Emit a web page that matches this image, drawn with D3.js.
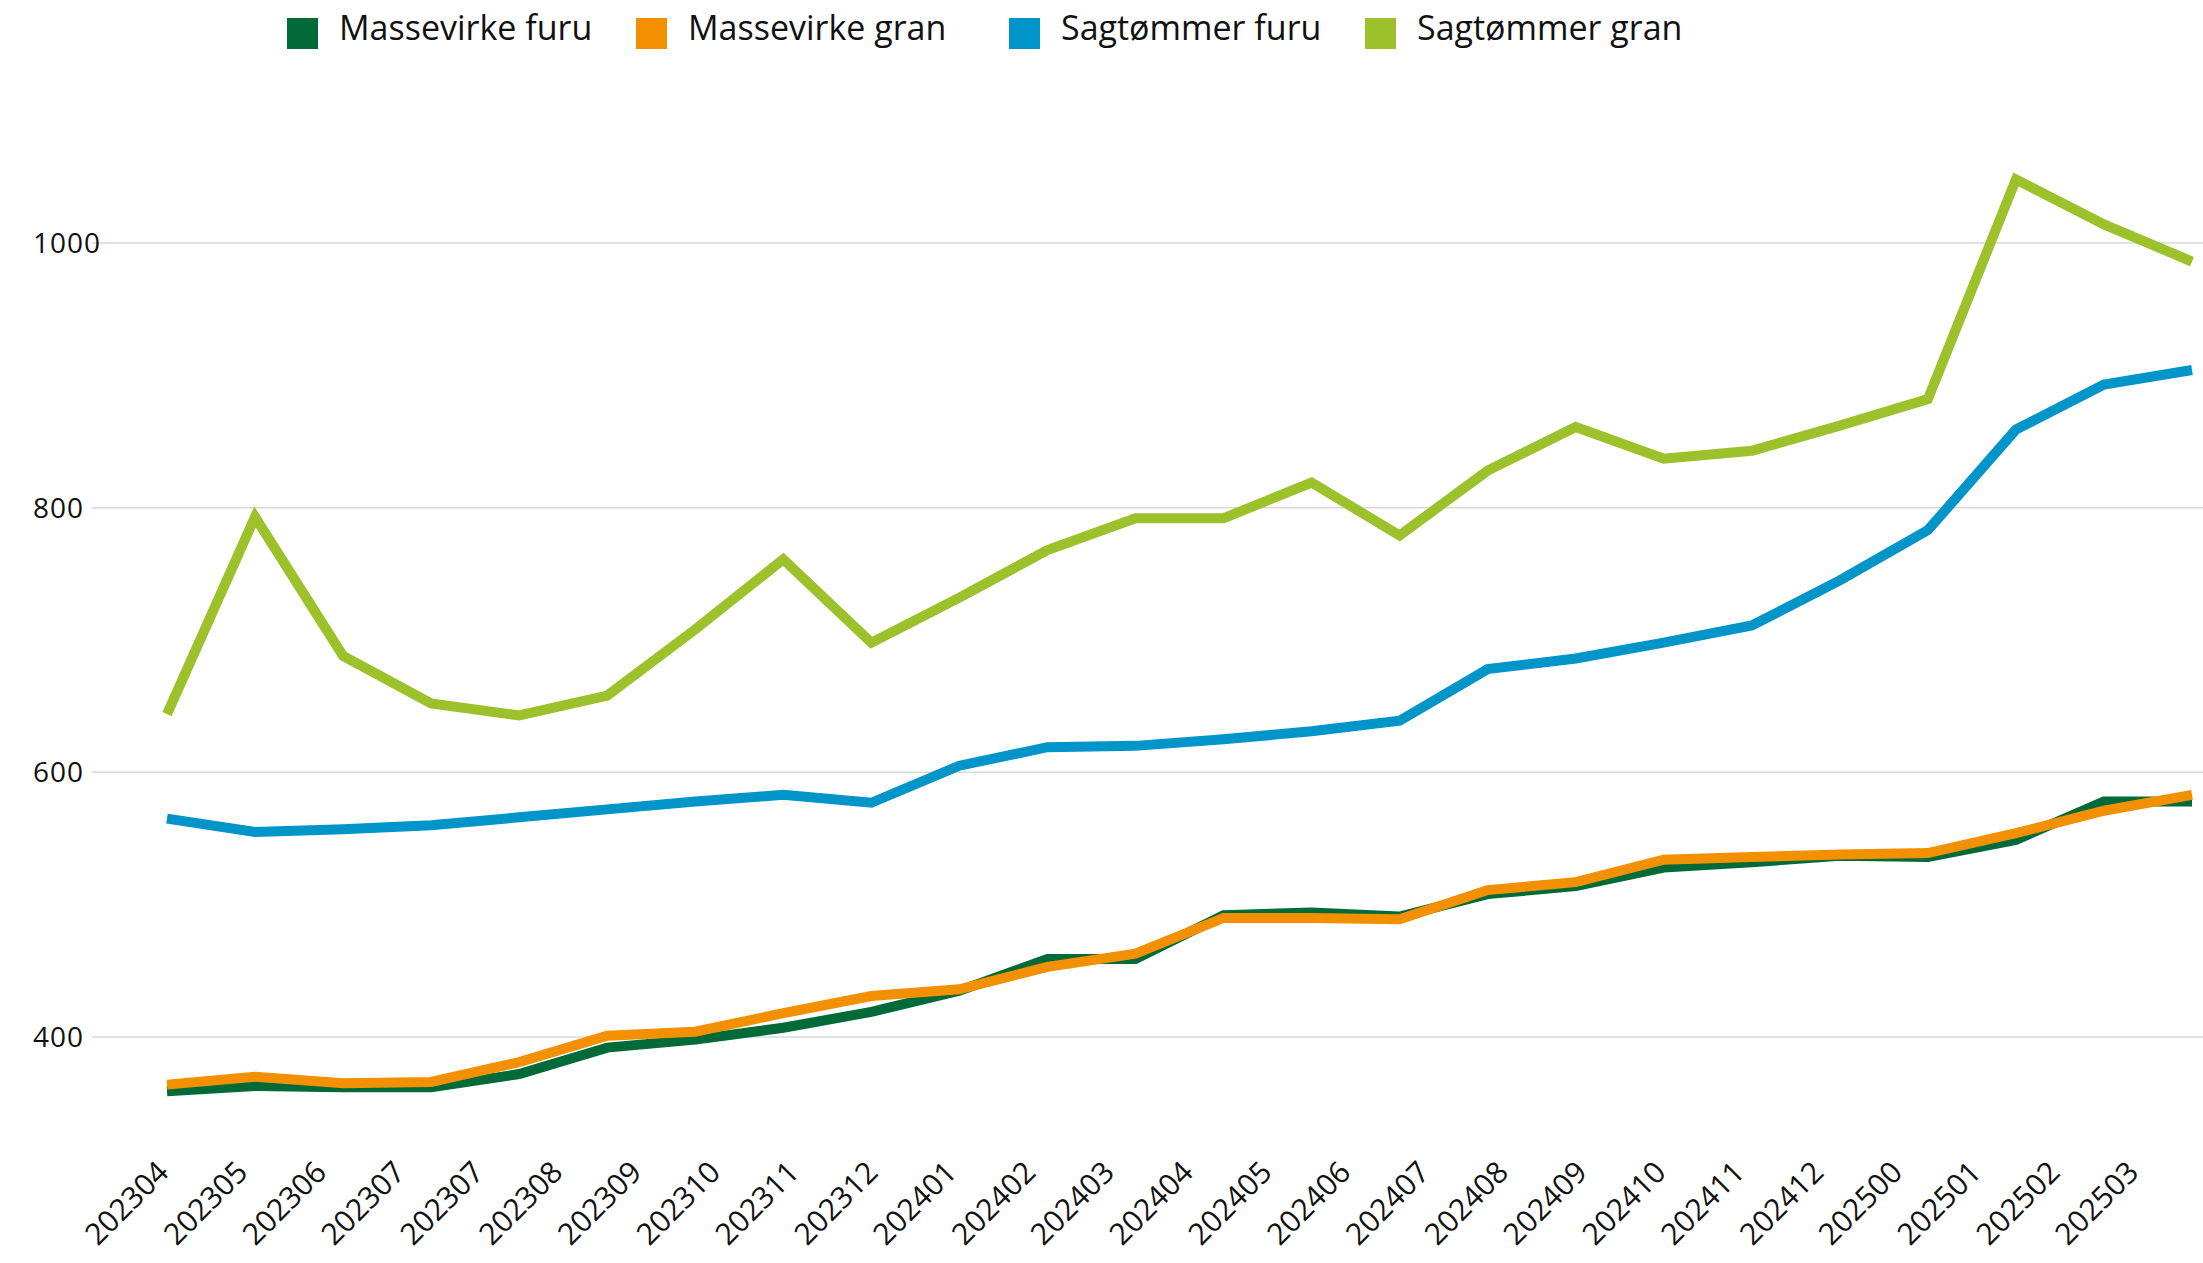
<!DOCTYPE html>
<html>
<head>
<meta charset="utf-8">
<script src="https://cdn.jsdelivr.net/npm/d3@7"></script>
<style>
  body { margin: 0; background: #fff; }
  #chart text { font-family: "Open Sans", sans-serif; fill: #111; }
</style>
</head>
<body>
<div id="chart"></div>
<script>
// tick labels on the x axis (as printed, incl. the doubled 202307)
var xLabels = ["202304", "202305", "202306", "202307", "202307", "202308", "202309",
  "202310", "202311", "202312", "202401", "202402", "202403", "202404", "202405",
  "202406", "202407", "202408", "202409", "202410", "202411", "202412", "202500",
  "202501", "202502", "202503"];

var yTicks = [400, 600, 800, 1000];

var seriesNames = ["Massevirke furu", "Massevirke gran", "Sagtømmer furu", "Sagtømmer gran"];

var massevirkeFuru = [359, 363, 362, 362, 372, 392, 398, 407, 419, 435, 459, 459,
  492, 494, 491, 508, 514, 528, 532, 537, 536, 549, 578, 578];
var massevirkeGran = [364, 370, 365, 366, 381, 401, 404, 418, 431, 436, 453, 463,
  490, 490, 489, 511, 517, 534, 536, 538, 539, 554, 571, 583];
var sagtommerFuru = [565, 555, 557, 560, 566, 572, 578, 583, 577, 605, 619, 620,
  625, 631, 639, 678, 686, 698, 711, 745, 783, 859, 893, 904];
var sagtommerGran = [644, 793, 688, 652, 643, 658, 708, 761, 698, 732, 768, 792,
  792, 819, 779, 828, 861, 837, 843, 862, 882, 1048, 1014, 986];

(function() {
  var width = 2203,
    height = 1263;

  var colors = ["#006b38", "#f39000", "#0095c8", "#9dc12b"];
  var allSeries = [massevirkeFuru, massevirkeGran, sagtommerFuru, sagtommerGran];

  var svg = d3.select("#chart")
    .append("svg")
    .attr("width", width)
    .attr("height", height)

  var y = d3.scaleLinear().domain([400, 1000]).range([1037, 243])

  // points of the lines
  var x = d3.scaleLinear().domain([0, massevirkeFuru.length - 1]).range([167, 2192])

  // the axis labels are spaced on their own
  var xAxisScale = d3.scalePoint().domain(d3.range(xLabels.length)).range([170, 2140])

  // gridlines
  svg.append("g")
    .selectAll("line")
    .data(yTicks)
    .enter().append("line")
    .attr("x1", 92)
    .attr("x2", width)
    .attr("y1", function(d) { return y(d) })
    .attr("y2", function(d) { return y(d) })
    .attr("stroke", "#d9d9d9")
    .attr("stroke-width", 1.5)

  // y labels
  svg.append("g")
    .selectAll("text")
    .data(yTicks)
    .enter().append("text")
    .attr("x", 33)
    .attr("y", function(d) { return y(d) + 10 })
    .attr("font-size", 28)
    .style("letter-spacing", "1px")
    .text(function(d) { return d })

  // x axis
  var xAxis = d3.axisBottom(xAxisScale)
    .tickSize(0)
    .tickFormat(function(i) { return xLabels[i] })

  var xg = svg.append("g")
    .attr("transform", "translate(0,1174)")
    .call(xAxis)

  xg.select(".domain").remove()
  xg.selectAll("text")
    .attr("font-size", 30)
    .attr("text-anchor", "end")
    .attr("dy", 0)
    .attr("y", 0)
    .attr("transform", "rotate(-45)")

  var line = d3.line()
    .x(function(d, i) { return x(i) })
    .y(function(d) { return y(d) })

  var order = [3, 2, 0, 1]
  svg.append("g")
    .selectAll("path")
    .data(order)
    .enter().append("path")
    .attr("d", function(k) { return line(allSeries[k]) })
    .attr("fill", "none")
    .attr("stroke", function(k) { return colors[k] })
    .attr("stroke-width", 10)
    .attr("stroke-linejoin", "miter")
    .attr("stroke-linecap", "butt")

  // legend
  var legendX = [287, 636, 1009, 1365]
  var legend = svg.append("g")
    .selectAll("g")
    .data(seriesNames)
    .enter().append("g")
    .attr("transform", function(d, i) { return "translate(" + legendX[i] + ",18)" })

  legend.append("rect")
    .attr("width", 31)
    .attr("height", 31)
    .attr("fill", function(d, i) { return colors[i] })

  legend.append("text")
    .attr("x", 52)
    .attr("y", 22)
    .attr("font-size", 34)
    .text(function(d) { return d })
})();
</script>
</body>
</html>
